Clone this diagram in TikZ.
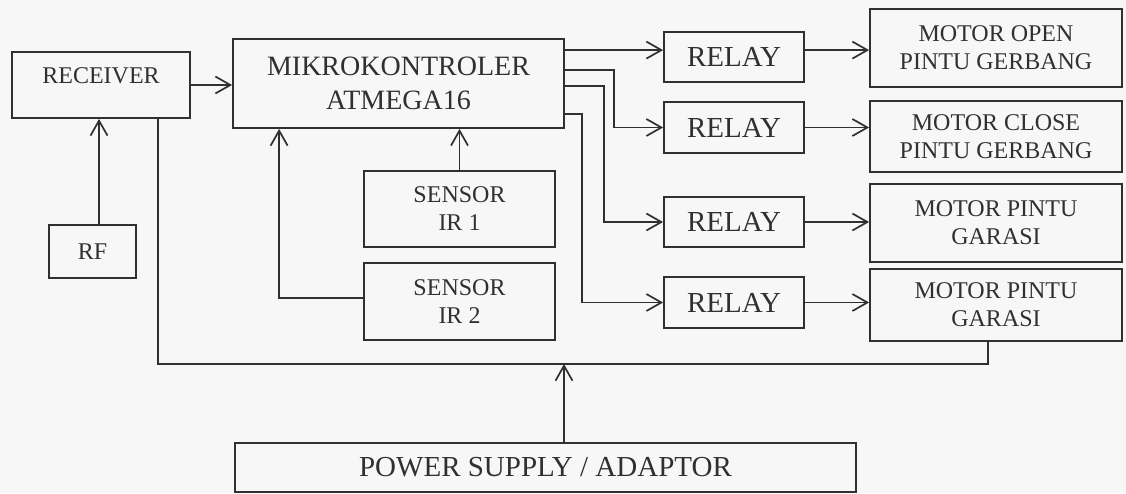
\documentclass[tikz,border=0pt]{standalone}
\usepackage{fontspec}
\setmainfont{Liberation Serif}
\usetikzlibrary{arrows.meta}
\definecolor{tinta}{RGB}{48,48,48}
\definecolor{kertas}{RGB}{247,247,247}

\begin{document}
\begin{tikzpicture}[x=1pt, y=-1pt,
    blok/.style={draw=tinta, line width=1.8pt, inner sep=0pt, align=center, text=tinta},
    teks/.style={font=\fontsize{24}{28}\selectfont},
    teksbesar/.style={font=\fontsize{29}{34}\selectfont},
    kabel/.style={draw=tinta, line width=1.8pt},
    panah/.style={kabel, -{Straight Barb[length=15pt,width=17pt,line width=1.7pt]}}]
    \fill[kertas] (0,0) rectangle (1126,493);
    \useasboundingbox (0,0) rectangle (1126,493);

    \node[blok, teks, minimum width=178pt, minimum height=66pt, text depth=18pt] (rec) at (101,85) {RECEIVER};
    \node[blok, teks, minimum width=87pt, minimum height=53pt] (rf) at (92.5,251.5) {RF};
    \node[blok, font=\fontsize{28}{34}\selectfont, minimum width=331pt, minimum height=89pt] (mcu) at (398.5,83.5) {MIKROKONTROLER\\ATMEGA16};
    \node[blok, teks, minimum width=191pt, minimum height=76pt] (ir1) at (459.5,209) {SENSOR\\IR 1};
    \node[blok, teks, minimum width=191pt, minimum height=77pt] (ir2) at (459.5,301.5) {SENSOR\\IR 2};

    \node[blok, teksbesar, minimum width=140pt, minimum height=50pt] (r1) at (734,57) {RELAY};
    \node[blok, teksbesar, minimum width=140pt, minimum height=51pt] (r2) at (734,127.5) {RELAY};
    \node[blok, teksbesar, minimum width=140pt, minimum height=50pt] (r3) at (734,222) {RELAY};
    \node[blok, teksbesar, minimum width=140pt, minimum height=51pt] (r4) at (734,302.5) {RELAY};

    \node[blok, teks, minimum width=252pt, minimum height=78pt] (m1) at (996,48) {MOTOR OPEN\\PINTU GERBANG};
    \node[blok, teks, minimum width=252pt, minimum height=71pt] (m2) at (996,136.5) {MOTOR CLOSE\\PINTU GERBANG};
    \node[blok, teks, minimum width=252pt, minimum height=78pt] (m3) at (996,223) {MOTOR PINTU\\GARASI};
    \node[blok, teks, minimum width=252pt, minimum height=72pt] (m4) at (996,305) {MOTOR PINTU\\GARASI};

    \node[blok, teksbesar, minimum width=621pt, minimum height=49pt] (ps) at (545.5,467.5) {POWER SUPPLY / ADAPTOR};

    % masukan
    \draw[panah] ([xshift=6.5pt]rf.north) -- ([xshift=6.5pt]rf.north |- rec.south);
    \draw[panah] (rec.east) -- (rec.east -| mcu.west);
    \draw[panah] (ir1.north) -- (ir1.north |- mcu.south);
    \draw[panah] ([yshift=3.5pt]ir2.west) -| ([xshift=47pt]mcu.south west);

    % keluaran ke relay
    \coordinate (o1) at ([yshift=-12pt]mcu.north east);
    \draw[panah] (o1) -- (o1 -| r1.west);
    \draw[panah] ([yshift=-32pt]mcu.north east) -- ++(49,0) |- (r2.west);
    \draw[panah] ([yshift=-48pt]mcu.north east) -- ++(39,0) |- (r3.west);
    \draw[panah] ([yshift=-76pt]mcu.north east) -- ++(17,0) |- (r4.west);

    % relay ke motor
    \draw[panah] (o1 -| r1.east) -- (o1 -| m1.west);
    \draw[panah] (r2.east) -- (r2.east -| m2.west);
    \draw[panah] (r3.east) -- (r3.east -| m3.west);
    \draw[panah] (r4.east) -- (r4.east -| m4.west);

    % catu daya
    \coordinate (bus) at ([xshift=18.5pt]ps.north |- 0,364);
    \draw[kabel] ([xshift=57pt]rec.south) -- ([xshift=57pt]rec.south |- bus) -- ([xshift=-8pt]m4.south |- bus) -- ([xshift=-8pt]m4.south);
    \draw[panah] ([xshift=18.5pt]ps.north) -- (bus);
\end{tikzpicture}
\end{document}
